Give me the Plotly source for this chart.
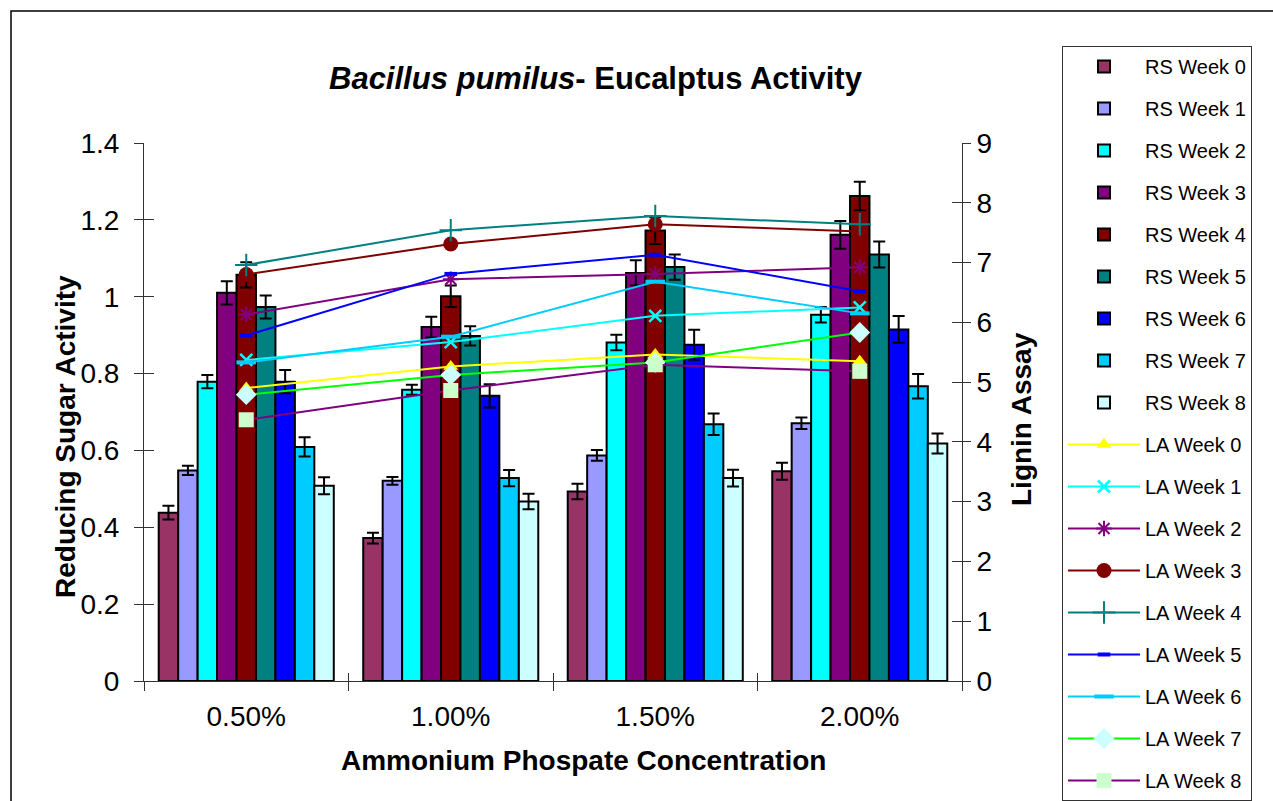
import plotly.graph_objects as go

# ---------------- data ----------------
categories = ["0.50%", "1.00%", "1.50%", "2.00%"]

rs_week0 = [0.438, 0.372, 0.493, 0.546]
rs_week1 = [0.548, 0.521, 0.587, 0.671]
rs_week2 = [0.779, 0.758, 0.881, 0.953]
rs_week3 = [1.010, 0.921, 1.062, 1.161]
rs_week4 = [1.057, 1.001, 1.172, 1.262]
rs_week5 = [0.973, 0.898, 1.077, 1.110]
rs_week6 = [0.779, 0.742, 0.875, 0.915]
rs_week7 = [0.609, 0.528, 0.668, 0.767]
rs_week8 = [0.508, 0.467, 0.528, 0.618]

rs_err0 = [0.018, 0.014, 0.020, 0.022]
rs_err1 = [0.012, 0.010, 0.014, 0.015]
rs_err2 = [0.017, 0.013, 0.020, 0.020]
rs_err3 = [0.030, 0.027, 0.033, 0.036]
rs_err4 = [0.033, 0.028, 0.035, 0.037]
rs_err5 = [0.030, 0.025, 0.033, 0.034]
rs_err6 = [0.030, 0.030, 0.039, 0.035]
rs_err7 = [0.025, 0.021, 0.028, 0.032]
rs_err8 = [0.022, 0.020, 0.022, 0.026]

la_week0 = [4.90, 5.26, 5.46, 5.35]
la_week1 = [5.37, 5.67, 6.11, 6.25]
la_week2 = [6.13, 6.72, 6.81, 6.92]
la_week3 = [6.80, 7.31, 7.64, 7.52]
la_week4 = [6.96, 7.54, 7.78, 7.64]
la_week5 = [5.78, 6.81, 7.13, 6.52]
la_week6 = [5.33, 5.76, 6.68, 6.15]
la_week7 = [4.79, 5.12, 5.33, 5.83]
la_week8 = [4.37, 4.86, 5.29, 5.18]

left_tickvals = [0, 0.2, 0.4, 0.6, 0.8, 1.0, 1.2, 1.4]
left_ticktext = ["0", "0.2", "0.4", "0.6", "0.8", "1", "1.2", "1.4"]
right_tickvals = [0, 1, 2, 3, 4, 5, 6, 7, 8, 9]

rs_series = [rs_week0, rs_week1, rs_week2, rs_week3, rs_week4,
             rs_week5, rs_week6, rs_week7, rs_week8]
rs_errors = [rs_err0, rs_err1, rs_err2, rs_err3, rs_err4,
             rs_err5, rs_err6, rs_err7, rs_err8]
la_series = [la_week0, la_week1, la_week2, la_week3, la_week4,
             la_week5, la_week6, la_week7, la_week8]

# ---------------- styles ----------------
FONT = "Liberation Sans, Arial, sans-serif"
AX = "#333333"
rs_colors = ["#993366", "#9999FF", "#00FFFF", "#800080", "#800000",
             "#008080", "#0000FF", "#00CCFF", "#CCFFFF"]
la_styles = [
    dict(line="#FFFF00", marker=dict(symbol="triangle-up", size=13, color="#FFFF00")),
    dict(line="#00FFFF", marker=dict(symbol="x-thin-open", size=12, color="#00FFFF",
                                     line=dict(width=2.5, color="#00FFFF"))),
    dict(line="#800080", marker=dict(symbol="asterisk-open", size=13, color="#800080",
                                     line=dict(width=2, color="#800080"))),
    dict(line="#800000", marker=dict(symbol="circle", size=15, color="#800000")),
    dict(line="#008080", marker=dict(symbol="cross-thin-open", size=16, color="#008080",
                                     line=dict(width=2, color="#008080"))),
    dict(line="#0000FF", marker=dict(symbol="line-ew-open", size=9, color="#0000FF",
                                     line=dict(width=4, color="#0000FF"))),
    dict(line="#00CCFF", marker=dict(symbol="line-ew-open", size=14, color="#00CCFF",
                                     line=dict(width=4, color="#00CCFF"))),
    dict(line="#00FF00", marker=dict(symbol="diamond", size=16, color="#CCFFFF")),
    dict(line="#800080", marker=dict(symbol="square", size=15, color="#CCFFCC")),
]

fig = go.Figure()

for i, (vals, errs) in enumerate(zip(rs_series, rs_errors)):
    name = f"RS Week {i}"
    fig.add_trace(go.Bar(
        name=name, legendgroup=name, x=categories, y=vals,
        marker=dict(color=rs_colors[i], line=dict(color="black", width=2)),
        error_y=dict(type="data", array=errs, color="black", thickness=2, width=6),
    ))

for i, vals in enumerate(la_series):
    name = f"LA Week {i}"
    st = la_styles[i]
    fig.add_trace(go.Scatter(
        name=name, legendgroup=name, x=categories, y=vals, yaxis="y2",
        mode="lines+markers", line=dict(color=st["line"], width=2),
        marker=st["marker"],
    ))

# helper traces for the inner halves of the cross tick marks
fig.add_trace(go.Scatter(x=categories, y=[None] * 4, yaxis="y3", showlegend=False,
                         hoverinfo="skip", mode="lines"))
fig.add_trace(go.Scatter(x=categories, y=[None] * 4, yaxis="y4", showlegend=False,
                         hoverinfo="skip", mode="lines"))
fig.add_trace(go.Scatter(x=categories, y=[None] * 4, xaxis="x2", showlegend=False,
                         hoverinfo="skip", mode="lines"))

W, H = 1273, 801
L, R, T, B = 144, 962, 143, 681
pw, ph = R - L, B - T


def px(x):
    return (x - L) / pw


def py(y):
    return (B - y) / ph


fig.update_layout(
    width=W, height=H,
    margin=dict(l=L, r=W - R, t=T, b=H - B, pad=0),
    paper_bgcolor="white", plot_bgcolor="white",
    font=dict(family=FONT, color="black"),
    barmode="group", bargap=0.144, bargroupgap=0,
    xaxis=dict(type="category", categoryarray=categories, range=[-0.5, 3.5],
               tickson="boundaries", ticks="outside", ticklen=9, tickcolor=AX,
               showline=True, linecolor=AX, linewidth=1, showgrid=False,
               tickfont=dict(size=28, family=FONT), ticklabelstandoff=10),
    xaxis2=dict(type="category", categoryarray=categories, range=[-0.5, 3.5],
                overlaying="x", anchor="y", tickson="boundaries", ticks="inside",
                ticklen=8, tickcolor=AX, showticklabels=False, showline=False,
                showgrid=False),
    yaxis=dict(range=[0, 1.4], tickvals=left_tickvals, ticktext=left_ticktext,
               ticks="outside", ticklen=9, tickcolor=AX, showline=True,
               linecolor=AX, linewidth=1, showgrid=False, zeroline=False,
               tickfont=dict(size=28, family=FONT), ticklabelstandoff=9),
    yaxis2=dict(range=[0, 9], tickvals=right_tickvals, overlaying="y", side="right",
                anchor="x", ticks="outside", ticklen=8, tickcolor=AX, showline=True,
                linecolor=AX, linewidth=1, showgrid=False, zeroline=False,
                tickfont=dict(size=28, family=FONT)),
    yaxis3=dict(range=[0, 1.4], tickvals=left_tickvals, overlaying="y", side="left",
                anchor="x", ticks="inside", ticklen=10, tickcolor=AX,
                showticklabels=False, showline=False, showgrid=False, zeroline=False),
    yaxis4=dict(range=[0, 9], tickvals=right_tickvals, overlaying="y", side="right",
                anchor="x", ticks="inside", ticklen=10, tickcolor=AX,
                showticklabels=False, showline=False, showgrid=False, zeroline=False),
    legend=dict(x=px(1062), y=py(47), xanchor="left", yanchor="top",
                bordercolor=AX, borderwidth=1, bgcolor="white",
                font=dict(size=20, family=FONT), itemwidth=72,
                tracegroupgap=13, traceorder="grouped", maxheight=790),
    showlegend=True,
)

fig.add_annotation(x=px(596), y=py(78), xref="paper", yref="paper",
                   text="<b><i>Bacillus pumilus</i>- Eucalptus Activity</b>",
                   showarrow=False, xanchor="center", yanchor="middle",
                   font=dict(size=31, family=FONT))
fig.add_annotation(x=px(65), y=py(437), xref="paper", yref="paper",
                   text="<b>Reducing Sugar Activity</b>", textangle=-90,
                   showarrow=False, xanchor="center", yanchor="middle",
                   font=dict(size=28, family=FONT))
fig.add_annotation(x=px(1021), y=py(419), xref="paper", yref="paper",
                   text="<b>Lignin Assay</b>", textangle=-90,
                   showarrow=False, xanchor="center", yanchor="middle",
                   font=dict(size=28, family=FONT))
fig.add_annotation(x=px(583), y=py(760), xref="paper", yref="paper",
                   text="<b>Ammonium Phospate Concentration</b>",
                   showarrow=False, xanchor="center", yanchor="middle",
                   font=dict(size=28, family=FONT))

# outer chart border (extends beyond the picture on the right and bottom)
fig.add_shape(type="rect", xref="paper", yref="paper",
              x0=px(11), x1=px(1300), y0=py(830), y1=py(11),
              line=dict(color="black", width=1.5), fillcolor="rgba(0,0,0,0)",
              layer="below")

fig.write_html("out.html", config={"displayModeBar": False},
               post_script="document.body.style.margin='0';")
